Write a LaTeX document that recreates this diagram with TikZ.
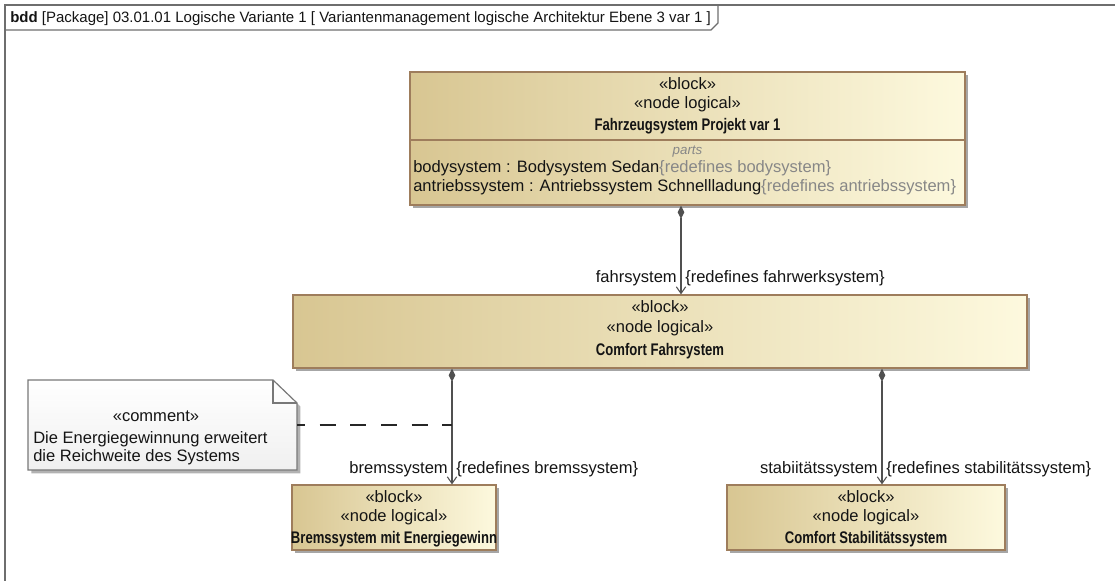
\documentclass[tikz,border=0pt]{standalone}
\usepackage{fontspec}
\setmainfont{Liberation Sans}
\newfontface\titleface[FakeStretch=0.78]{Liberation Sans Bold}
\usetikzlibrary{shadows,arrows.meta,fit}

\definecolor{blkL}{RGB}{216,198,146}
\definecolor{blkR}{RGB}{253,249,222}
\definecolor{blkBorder}{RGB}{158,125,92}
\definecolor{connCol}{RGB}{80,80,80}
\definecolor{txtCol}{RGB}{20,20,20}
\definecolor{greyTxt}{RGB}{135,135,135}
\definecolor{frameCol}{RGB}{110,110,110}
\definecolor{noteBorder}{RGB}{120,120,120}

\tikzset{
  every node/.style={font=\fontsize{12.4}{14}\selectfont, text=txtCol, inner sep=0pt},
  blockbox/.style={draw=blkBorder, line width=0.9pt, left color=blkL, right color=blkR,
    inner sep=0pt,
    drop shadow={shadow xshift=2.6pt, shadow yshift=-2.6pt, fill=black, opacity=0.35}},
  titletext/.style={font=\titleface\fontsize{12.6}{14}\selectfont},
  composition/.style={draw=connCol, line width=0.9pt,
    {Diamond[length=10pt,width=5pt,fill=connCol]}-{Straight Barb[length=5pt,width=7pt,line width=0.8pt]}},
  rolelabel/.style={anchor=base east},
  redeflabel/.style={anchor=base west},
  notelink/.style={draw=black!85, line width=0.9pt, dash pattern=on 12pt off 11pt, dash phase=6pt}
}

\begin{document}
\begin{tikzpicture}[x=0.75pt,y=-0.75pt]
\useasboundingbox (0,0) rectangle (1115,581);

% diagram frame and name tab
\draw[frameCol, line width=1.4pt] (5,581) -- (5,5) -- (1115,5);
\draw[frameCol, line width=1pt] (5,30) -- (711,30) -- (718,23) -- (718,5);
\node[anchor=base west, font=\fontsize{11.25}{13}\selectfont] (frametitle) at (10,23)
  {\textbf{bdd} [Package] 03.01.01 Logische Variante 1 [ Variantenmanagement logische Architektur Ebene 3 var 1 ]};

% top block
\node[blockbox, fit={(410,72) (965,205)}] (top) {};
\draw[blkBorder, line width=0.9pt] (410,140) -- (965,140);
\node[anchor=base] (topS1) at (687.5,90) {«block»};
\node[anchor=base] (topS2) at (687.5,109) {«node logical»};
\node[anchor=base, titletext] (topT) at (687.5,131) {Fahrzeugsystem Projekt var 1};
\node[anchor=base, text=greyTxt, font=\itshape\fontsize{10}{11}\selectfont] (parts) at (687.5,155) {parts};
\node[anchor=base west] (part1) at (413,173)
  {bodysystem : Bodysystem Sedan\textcolor{greyTxt}{\{redefines bodysystem\}}};
\node[anchor=base west] (part2) at (413,192)
  {antriebssystem : Antriebssystem Schnellladung\textcolor{greyTxt}{\{redefines antriebssystem\}}};

% Comfort Fahrsystem
\node[blockbox, fit={(293,295) (1027,368)}] (fahr) {};
\node[anchor=base] (fahrS1) at (660,313) {«block»};
\node[anchor=base] (fahrS2) at (660,333) {«node logical»};
\node[anchor=base, titletext] (fahrT) at (660,355) {Comfort Fahrsystem};

% Bremssystem
\node[blockbox, fit={(292,485) (496,550)}] (brems) {};
\node[anchor=base] (bremsS1) at (394,502) {«block»};
\node[anchor=base] (bremsS2) at (394,521) {«node logical»};
\node[anchor=base, titletext] (bremsT) at (394,543) {Bremssystem mit Energiegewinn};

% Stabilitaetssystem
\node[blockbox, fit={(727,485) (1005,550)}] (stab) {};
\node[anchor=base] (stabS1) at (866,502) {«block»};
\node[anchor=base] (stabS2) at (866,521) {«node logical»};
\node[anchor=base, titletext] (stabT) at (866,543) {Comfort Stabilitätssystem};

% comment note with folded corner
\path[draw=noteBorder, line width=0.9pt, top color=white, bottom color=black!6,
  drop shadow={shadow xshift=2.6pt, shadow yshift=-2.6pt, fill=black, opacity=0.3}]
  (28,380) -- (273,380) -- (297,403) -- (297,470) -- (28,470) -- cycle;
\draw[noteBorder, line width=0.9pt] (273,380) -- (273,403) -- (297,403);
\node[anchor=base] (noteS) at (156,421) {«comment»};
\node[anchor=base west] (noteL1) at (33,443) {Die Energiegewinnung erweitert};
\node[anchor=base west] (noteL2) at (33,461) {die Reichweite des Systems};
\coordinate (noteAnchor) at (297,425);

% composition connectors
\coordinate (xTop) at (681,0);
\coordinate (xBrems) at (452,0);
\coordinate (xStab) at (882,0);
\draw[composition] (top.south -| xTop) -- (fahr.north -| xTop);
\draw[composition] (fahr.south -| xBrems) -- (brems.north -| xBrems);
\draw[composition] (fahr.south -| xStab) -- (stab.north -| xStab);
\coordinate (linkEnd) at (452,425);
\draw[notelink] (noteAnchor) -- (linkEnd);

% role names and constraints
\node[rolelabel] (roleFahr) at (677,283) {fahrsystem};
\node[redeflabel] (redefFahr) at (685,283) {\{redefines fahrwerksystem\}};
\node[rolelabel] (roleBrems) at (448,473) {bremssystem};
\node[redeflabel] (redefBrems) at (456,473) {\{redefines bremssystem\}};
\node[rolelabel] (roleStab) at (878,473) {stabiitätssystem};
\node[redeflabel] (redefStab) at (886,473) {\{redefines stabilitätssystem\}};
\end{tikzpicture}
\end{document}
